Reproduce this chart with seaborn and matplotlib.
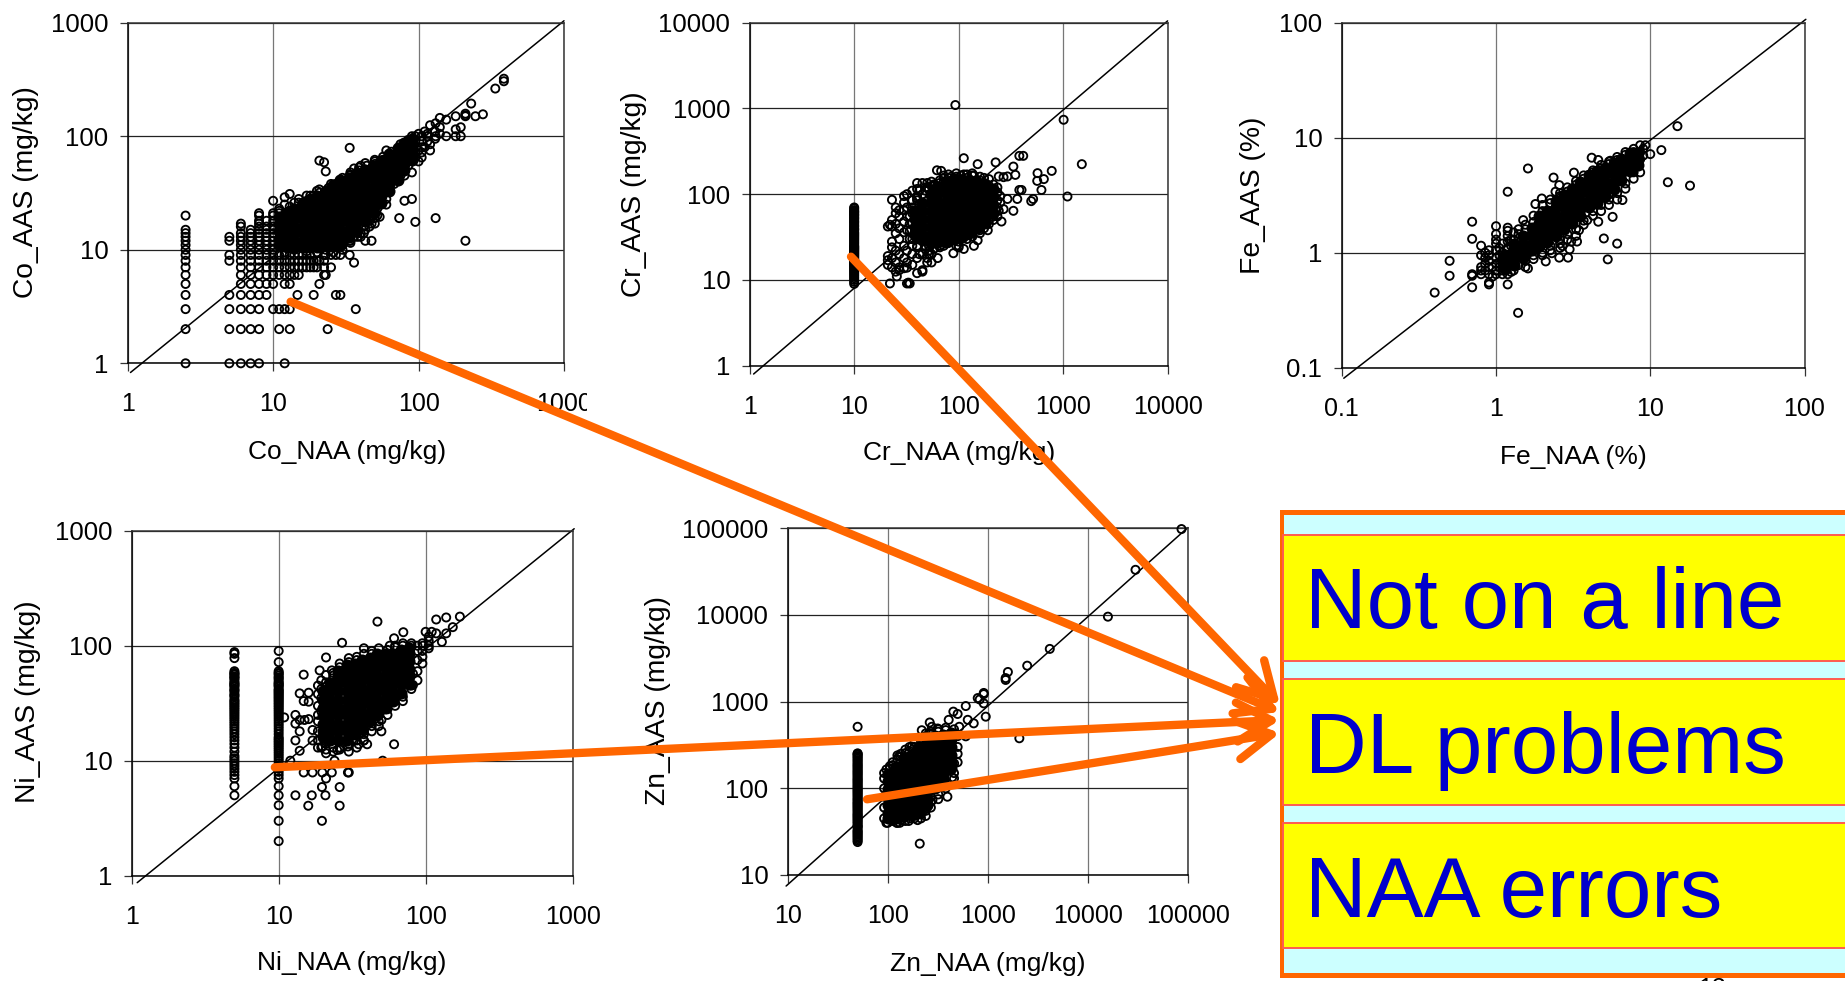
import matplotlib
matplotlib.use("Agg")
import matplotlib.pyplot as plt
from matplotlib.patches import Rectangle
from matplotlib.transforms import Bbox
import pandas as pd
import seaborn as sns

# Values. Keys are the NAA value, lists are the AAS values at it.
# "core" lists are the saturated black middle of each cloud, "rings" the separate circles,
# "fringe" the circles that make the rough edge of the cloud.
co_rings = {
    2.5: [20, 15, 14, 13, 12, 11, 10, 9, 8, 7, 6, 5, 4, 3, 2, 1],
    5: [13, 12, 9, 8, 4, 3, 2, 1],
    6: [17, 16, 14, 13, 12, 11, 10, 9, 8, 7, 6, 5, 4, 3, 2, 1],
    7: [15, 14, 13, 12, 11, 10, 9, 8, 7, 6, 5, 4, 3, 2, 1],
    8: [21, 20, 18, 17, 16, 15, 14, 13, 12, 11, 10, 9, 8, 7, 6, 5, 4, 3, 2, 1],
    9: [18, 16, 15, 14, 13, 12, 11, 10, 9, 8, 7, 6, 5, 4],
    10: [27, 21, 20, 18, 16, 15, 14, 13, 12, 11, 10, 9, 8, 7, 6, 5, 3],
    11: [22, 19, 9, 8, 7, 6, 3, 2],
    12: [29, 25, 18, 9, 8, 7, 6, 5, 3, 1],
    13: [31, 9, 8, 7, 6, 5, 3, 2],
    14: [26, 9, 8, 7, 6],
    14.7: [4],
    15: [28, 9, 8, 7, 6],
    16: [9, 8, 7],
    17: [30, 9, 8, 7],
    18: [30, 9, 8, 7],
    19: [8, 7, 4],
    20: [33, 8, 7],
    20.8: [61, 34, 8, 5],
    22.4: [59, 9, 8, 7, 6],
    23: [49, 9, 6],
    23.7: [2],
    25: [38, 9, 7],
    27: [9, 4],
    29: [9, 4],
    33.6: [79, 45, 12, 9],
    36: [52, 13, 7.7],
    37: [3],
    40: [55, 14, 13],
    43: [58, 15, 12],
    47.5: [17, 12],
    50: [62, 19, 17],
    54: [19.5],
    60: [75, 25],
    73.6: [19],
    80: [85, 45, 27],
    90: [100, 48, 28],
    95: [17.6],
    100: [105, 75, 60],
    110: [110, 80],
    120: [125, 75, 85],
    131: [19, 100, 130],
    140: [145, 120, 105],
    155: [140, 100],
    180: [150, 115, 100],
    195: [120, 100],
    210: [12, 153, 158, 150],
    230: [194],
    246: [150],
    277: [156],
    337: [263],
    386: [321, 305],
}
co_fringe = {
    11: [23, 21],
    12: [9.5],
    13: [24, 22],
    14: [10],
    15: [26],
    17: [27, 24, 9.7],
    19: [30, 28],
    20: [9.5],
    21: [32, 29],
    23: [10],
    24: [35, 31],
    26: [9.5, 10.5],
    27: [38, 36],
    30: [43, 40, 11, 10],
    34: [46, 48, 12, 11.5],
    38: [14, 13],
    39: [50, 53],
    42: [16, 14],
    44: [55, 50],
    46: [18, 16],
    50: [60, 57],
    52: [23, 20],
    57: [66, 62],
    60: [28, 33],
    65: [73, 68],
    68: [38, 42],
    75: [85, 78, 48, 45],
    85: [93, 90, 55, 60],
    95: [100, 90, 65, 72],
    105: [80, 90, 100, 72, 65],
    115: [90, 105, 100],
    130: [110, 95],
}
co_core = {
    11: [11, 12.5, 14.5, 17, 19.5],
    12.5: [10.5, 12, 14, 16, 18.5, 21],
    14: [10.5, 12, 14, 16, 18.5, 21, 23],
    16: [10.5, 12, 14, 16, 18.5, 21, 24, 26],
    18: [10.5, 12, 14, 16, 18.5, 21, 24, 28],
    20: [10.5, 12, 14, 16, 18.5, 21, 24, 27, 30],
    23: [11, 13, 15, 17, 20, 23, 26, 30, 33],
    26: [11, 13, 15, 17, 20, 23, 26, 30, 34, 37],
    29: [11, 13, 15, 17.5, 20, 23, 26, 30, 34, 38, 41],
    33: [13, 15, 17.5, 20, 23, 26, 30, 34, 38, 43],
    38: [15, 18, 20, 23, 26, 30, 34, 39, 44, 47],
    43: [18, 21, 24, 27, 31, 36, 41, 46, 50],
    49: [21, 24, 27, 31, 36, 42, 48, 55],
    55: [26, 30, 35, 40, 46, 53, 60],
    63: [33, 38, 44, 50, 57, 64, 70],
    72: [41, 47, 54, 62, 70, 78],
    80: [50, 57, 65, 75, 88],
    90: [62, 72, 83, 95],
}

cr_rings = {
    10: [70, 68, 65, 62, 60, 57, 55, 52, 50, 47, 45, 42, 40, 38, 36, 34, 32, 30, 28, 26, 25,
         24, 23, 22, 21, 20, 19, 18, 17, 16, 15, 14, 13, 12, 11, 10.5, 10, 9.5, 9],
    21: [19, 17, 15, 42],
    22: [9.1, 44],
    23: [86, 50, 42, 28, 24, 18, 14],
    25: [70, 60, 45, 35, 22, 16, 12.5],
    25.6: [11],
    27: [65, 55, 40, 30, 20, 14, 13],
    30: [95, 80, 65, 48, 36, 25, 18, 13.7],
    32: [100, 70, 55, 38, 22, 16, 13.9, 9.1],
    33: [9.3],
    34: [9.1],
    36: [110, 85, 60, 46, 30, 20, 15],
    40: [135, 115, 90, 24, 18, 12],
    45: [135, 100, 20, 12.5, 13],
    50: [135, 120, 18, 16],
    55: [140, 125, 20, 16],
    63: [18],
    62: [190, 125],
    68: [187],
    72: [155, 140, 25],
    89: [20.5],
    93: [1096],
    85: [160, 145],
    100: [150, 28, 24, 25],
    112: [263, 170, 23],
    140: [25, 165],
    152: [224, 29],
    190: [38],
    226: [235],
    242: [161, 64],
    257: [48],
    269: [158, 67],
    293: [161, 88],
    334: [210, 64],
    349: [168],
    364: [88],
    381: [280, 112],
    400: [112],
    415: [280],
    495: [83],
    516: [88],
    565: [143],
    569: [176],
    620: [112],
    654: [150],
    778: [187],
    1011: [738],
    1100: [94],
    1510: [224],
}
cr_fringe = {
    10: [63, 58, 53, 48, 43, 39, 35, 33, 31, 29, 27, 24.5, 23.5, 22.5, 21.5, 20.5, 19.5, 18.5,
         17.5, 16.5, 15.5, 14.5, 13.5, 12.5, 11.5],
    34: [45, 55, 30, 37],
    36: [70, 25, 65],
    40: [85, 95, 25, 30],
    42: [75, 110, 20],
    48: [110, 120, 25, 23],
    52: [115, 22, 25, 20],
    58: [130, 125, 23],
    66: [145, 135, 25, 24],
    72: [165, 28],
    80: [170, 155, 27],
    95: [175, 160, 25],
    105: [165, 150, 30],
    120: [170, 155, 30, 33],
    135: [165, 175, 35, 32],
    160: [160, 145, 35, 38],
    175: [155, 40, 45],
    195: [150, 125, 50, 45],
    215: [130, 55, 50],
    235: [120, 105, 85, 70, 55],
    250: [95, 80],
}
cr_core = {
    38: [33, 41, 51, 63],
    45: [30, 33, 41, 51, 63, 78],
    54: [27, 33, 41, 51, 63, 78, 97],
    64: [28, 35, 43, 53, 66, 82, 102, 120],
    76: [28, 35, 43, 53, 66, 82, 102, 125, 140],
    90: [30, 37, 46, 57, 71, 88, 109, 135, 150],
    107: [32, 40, 50, 62, 77, 95, 118, 145],
    127: [35, 43, 53, 66, 82, 102, 126, 145],
    151: [40, 50, 62, 77, 95, 118, 140],
    180: [46, 57, 71, 88, 109, 130],
    214: [60, 75, 93, 115],
}

fe_rings = {
    0.4: [0.45],
    0.5: [0.85, 0.63],
    0.7: [1.86, 1.32, 0.65, 0.63, 0.5],
    0.8: [1.15, 0.95, 0.75, 0.7, 0.65],
    0.9: [1.05, 0.95, 0.85, 0.75, 0.65, 0.55, 0.53],
    1: [1.7, 1.45, 1.3, 1.2, 1.05, 0.9, 0.8, 0.7, 0.65],
    1.1: [1.2, 1, 0.9, 0.8, 0.7, 0.65],
    1.19: [3.39, 1.65, 1.55, 1.4, 1.25, 1.1, 0.95, 0.85, 0.75, 0.65, 0.53],
    1.3: [1.5, 1.3, 1.1, 0.95, 0.8, 0.7],
    1.39: [0.3],
    1.5: [1.92],
    1.61: [5.4, 0.73],
    1.8: [2.65],
    1.98: [2.96],
    2.1: [0.84],
    2.3: [0.99],
    2.36: [4.5],
    2.43: [3.39],
    2.57: [3.87, 0.906],
    2.7: [1.14],
    2.93: [0.906],
    3: [1.07],
    3.07: [1.25],
    3.2: [4.97],
    3.35: [1.25],
    3.45: [1.57],
    3.9: [1.92],
    4.17: [6.7],
    4.6: [6.4, 1.86],
    5: [1.33],
    5.3: [0.875],
    5.5: [6.3],
    5.7: [2.05],
    6.1: [1.2],
    6.6: [2.87],
    8.6: [8.6],
    9.3: [8.6],
    10: [7.2],
    11.8: [7.8],
    13: [4.1],
    15: [12.6],
    18.1: [3.83],
}
fe_fringe = {
    0.85: [0.9, 0.8, 0.7, 1],
    0.95: [0.75, 0.62],
    1.05: [1.1, 0.95, 0.75],
    1.25: [1.3, 1.15, 0.8, 0.68],
    1.4: [1.6, 1.45, 0.78],
    1.55: [1.75, 1.6, 0.75, 0.85],
    1.75: [2.1, 1.85, 0.88, 0.95],
    2: [2.6, 2.3, 1, 0.95],
    2.25: [2.9, 2.7, 1.05, 1.15],
    2.6: [3.3, 3.1, 1.2, 1.3, 1.1],
    2.9: [3.7, 3.4, 1.3, 1.45],
    3.3: [4.2, 3.9, 1.4, 1.6],
    3.7: [4.7, 4.4, 1.75, 1.9],
    4.25: [5.2, 5, 2.1, 2.3],
    4.8: [5.8, 5.4, 2.3, 2.6],
    5.4: [6.2, 5.9, 2.6, 2.9, 3.2],
    6.1: [6.8, 6.4, 2.9, 3.3],
    6.9: [7.5, 7.1, 3.6, 4],
    7.8: [8, 7.5, 4.4, 5],
    8.6: [7.5, 6.5, 5],
    9: [8, 7],
}
fe_core = {
    1.15: [0.72, 0.82, 0.95],
    1.3: [0.78, 0.9, 1.05, 1.2],
    1.5: [0.9, 1, 1.2, 1.4],
    1.7: [1.05, 1.2, 1.4, 1.65],
    1.9: [1.15, 1.3, 1.55, 1.8, 2.1],
    2.15: [1.25, 1.4, 1.65, 1.95, 2.3],
    2.45: [1.4, 1.55, 1.8, 2.1, 2.5, 2.8],
    2.75: [1.6, 1.8, 2.1, 2.5, 2.9, 3.2],
    3.1: [1.8, 2, 2.4, 2.8, 3.3, 3.6],
    3.5: [2.1, 2.4, 2.8, 3.3, 3.8, 4.1],
    4: [2.5, 2.8, 3.3, 3.8, 4.4, 4.7],
    4.5: [2.7, 3, 3.5, 4.1, 4.8, 5.1],
    5.1: [3.1, 3.5, 4.1, 4.8, 5.4],
    5.8: [3.6, 4.1, 4.8, 5.6, 6],
    6.5: [4.3, 4.9, 5.7, 6.5],
    7.4: [5.1, 5.8, 6.8, 7.3],
    8.3: [5.8, 6.5, 7.3],
}

ni_rings = {
    5: [88, 85, 78, 60, 58, 56, 54, 52, 50, 47, 45, 42, 40, 38, 36, 34, 32, 30, 28, 26, 25, 24,
        22, 20, 18, 16, 15, 14, 13, 12, 11, 10.5, 10, 9.5, 9, 8.5, 8, 7.5, 7, 6, 5],
    10: [90, 72, 60, 58, 55, 52, 50, 47, 45, 42, 40, 38, 36, 34, 32, 30, 28, 26, 25, 24, 22, 21,
         20, 19, 18, 17, 16, 15, 14, 13, 12.5, 12, 11.5, 11, 10.5, 10, 9.5, 9, 8.5, 8, 7.5, 7,
         6, 5, 4.1, 3, 2],
    10.9: [23.8],
    12: [10],
    13: [25, 21, 15, 5],
    13.9: [22.6, 18, 12.2, 38.5],
    14.8: [56, 33, 7.9],
    15: [22.6],
    15.9: [4.06],
    16: [39, 32.6, 23],
    16.8: [5],
    17: [18.5, 15, 7.9],
    19: [61],
    19.7: [5.9, 3],
    19.8: [13.3, 7.9],
    20.8: [5],
    21: [79, 55.6, 11.6, 7],
    23: [61, 7.9],
    24: [10],
    25: [12.4],
    26: [5.9, 4.06],
    27: [106],
    29.6: [13.3, 7.9],
    30: [7.9],
    32.5: [15],
    35: [13.9],
    38: [95, 15],
    40: [13.9],
    47: [162],
    50: [22.6, 18],
    51: [31.6, 10],
    57: [100],
    61: [116, 13.9],
    62: [36],
    68: [38],
    70.5: [131],
    82: [57, 45.5],
    96: [100],
    100: [132],
    110: [132],
    118: [169, 128],
    129: [108],
    138: [176, 128],
    153: [145],
    171: [179],
}
ni_fringe = {
    5: [44, 41, 37, 33, 31, 29, 27, 23, 21, 19, 17, 48, 46, 53, 57],
    10: [57, 53, 48, 46, 44, 41, 39, 37, 35, 33, 31, 29, 27, 23, 15.5, 14.5, 13.5],
    18.5: [45, 38, 30, 25, 22, 18, 15, 13],
    19.5: [50, 42, 35, 27, 13],
    21: [48, 44, 14, 12.5],
    23.5: [55, 58, 13, 12],
    26: [70, 65, 13, 12.5],
    30: [78, 72, 14, 12],
    34: [80, 75, 15, 13],
    38: [85, 15, 17, 18],
    43: [90, 85, 20, 18],
    48: [95, 22, 20],
    55: [92, 25, 28],
    62: [100, 97, 30],
    70: [100, 105, 33, 36],
    80: [100, 105, 42, 45],
    88: [100, 90, 75, 60, 50],
    95: [105, 90, 80, 70],
    105: [110, 100, 120, 95],
}
ni_core = {
    20: [16, 18, 21, 25, 29, 34, 40],
    22.5: [15, 18, 21, 25, 29, 34, 40, 47],
    25.5: [15, 18, 21, 25, 29, 34, 40, 47, 55, 60],
    29: [15, 18, 21, 25, 29, 34, 40, 47, 55, 64, 68],
    33: [17, 20, 24, 28, 33, 39, 46, 54, 63, 70],
    37: [19, 22, 26, 31, 36, 42, 50, 58, 68, 75],
    42: [22, 26, 31, 36, 42, 50, 58, 68, 78],
    47: [25, 29, 34, 40, 47, 55, 65, 76, 85],
    53: [29, 34, 40, 47, 55, 65, 76, 85],
    60: [33, 39, 46, 54, 63, 74, 85],
    68: [39, 46, 54, 63, 74, 87, 92],
    77: [46, 54, 63, 74, 87, 95],
}

zn_rings = {
    50: [513, 253, 250, 235, 220, 205, 190, 178, 166, 155, 145, 135, 126, 118, 110, 103, 96, 90,
         84, 78, 73, 68, 64, 60, 56, 52, 49, 46, 43, 40, 37, 35, 32, 30, 28, 26, 24],
    100: [40],
    123: [40],
    129: [232],
    132: [40],
    162: [42],
    174: [302],
    199: [43],
    209: [23],
    219: [468],
    234: [57],
    263: [575],
    276: [513],
    280: [73],
    316: [490],
    395: [80],
    407: [617],
    441: [134],
    453: [767],
    461: [194],
    500: [721],
    519: [513],
    603: [890, 398],
    631: [617],
    724: [562],
    794: [1100],
    830: [1060],
    912: [1260, 1220, 955],
    955: [671],
    1510: [1780, 1870],
    1590: [2200],
    2070: [378],
    2480: [2600],
    4170: [4060],
    15900: [9560],
    30000: [33200],
    86500: [98000],
}
zn_fringe = {
    50: [243, 228, 212, 197, 184, 172, 160, 150, 140, 130, 122, 114, 106, 99, 93, 87, 81, 75, 70,
         66, 62, 58, 54, 50, 47, 44, 41, 38, 36, 33, 31, 29, 27, 25],
    92: [150, 130, 100, 80, 60, 45],
    97: [165, 40],
    105: [180, 170],
    112: [200, 185, 42],
    125: [240, 215, 40],
    135: [250, 230, 43],
    150: [280, 255, 42],
    165: [300, 270, 45],
    185: [340, 300, 45, 48],
    215: [380, 350, 45, 50],
    240: [430, 400, 48, 55],
    270: [450, 430, 60, 70, 80],
    320: [480, 450, 85, 75],
    380: [500, 470, 100, 110],
    460: [480, 420, 130, 150],
    500: [400, 300, 250, 200],
}
zn_core = {
    100: [46, 52, 64, 79, 98, 121, 145],
    120: [46, 52, 64, 79, 98, 121, 150, 175],
    144: [48, 54, 67, 83, 103, 127, 157, 194, 225],
    173: [50, 56, 69, 85, 105, 130, 161, 199, 240],
    207: [54, 62, 77, 95, 117, 145, 179, 221, 273, 300],
    249: [64, 74, 91, 113, 140, 173, 214, 264, 326, 380],
    299: [100, 117, 145, 179, 221, 273, 337, 400],
    359: [125, 148, 183, 226, 279, 345, 410],
    430: [170, 198, 245, 303, 374, 430],
}

# 1:1 reference lines, they run a little past the frame at the low end
co_line = ([1.045, 1000], [0.83, 1040])
cr_line = ([1.09, 10000], [0.8, 10500])
fe_line = ([0.103, 102], [0.081, 107])
ni_line = ([1.09, 1025], [0.87, 1040])
zn_line = ([9.64, 100000], [7.46, 102000])

co_ticks = ["1", "10", "100", "1000"]
cr_ticks = ["1", "10", "100", "1000", "10000"]
fe_ticks = ["0.1", "1", "10", "100"]
ni_ticks = ["1", "10", "100", "1000"]
zn_ticks = ["10", "100", "1000", "10000", "100000"]

box_labels = ["Not on a line", "DL problems", "NAA errors"]

W, H = 1845, 981
XTICK_SIZE = 18
YTICK_SIZE = 18.5
XLABEL_SIZE = 19
YLABEL_SIZE = 20.3
ORANGE = "#FF6600"

sns.set_theme(style="white")
plt.rcParams["font.family"] = ["Liberation Sans", "DejaVu Sans"]

fig = plt.figure(figsize=(W / 100, H / 100), dpi=100, facecolor="white")

# left, right, top, bottom of the frame, x label centre, y label centre (pixels)
panels = [
    ("Co", co_rings, co_fringe, co_core, co_line, co_ticks, "Co_NAA (mg/kg)", "Co_AAS (mg/kg)",
     (127.7, 564, 22.7, 363.3), (347, 452), (25.7, 191.7)),
    ("Cr", cr_rings, cr_fringe, cr_core, cr_line, cr_ticks, "Cr_NAA (mg/kg)", "Cr_AAS (mg/kg)",
     (749.7, 1167.6, 22.7, 365.7), (959, 453), (633.8, 194)),
    ("Fe", fe_rings, fe_fringe, fe_core, fe_line, fe_ticks, "Fe_NAA (%)", "Fe_AAS (%)",
     (1341.8, 1804.5, 22.7, 367.7), (1573, 456.7), (1253.5, 195)),
    ("Ni", ni_rings, ni_fringe, ni_core, ni_line, ni_ticks, "Ni_NAA (mg/kg)", "Ni_AAS (mg/kg)",
     (131.7, 572.6, 530.7, 875.7), (352, 963), (28.5, 701.7)),
    ("Zn", zn_rings, zn_fringe, zn_core, zn_line, zn_ticks, "Zn_NAA (mg/kg)", "Zn_AAS (mg/kg)",
     (787.7, 1187.8, 528.3, 875), (987.7, 964), (657.6, 700.8)),
]


def to_frame(*tables):
    rows = [(x, y) for columns in tables for x, ys in columns.items() for y in ys]
    return pd.DataFrame(rows, columns=["naa", "aas"])


for name, rings, fringe, core, line, ticks, xlabel, ylabel, frame, xpos, ypos in panels:
    left, right, top, bottom = frame
    ax = fig.add_axes([left / W, 1 - bottom / H, (right - left) / W, (bottom - top) / H])
    ax.set(xscale="log", yscale="log")
    tick_values = [float(t) for t in ticks]

    ax.plot(line[0], line[1], color="black", lw=1.1, clip_on=False, zorder=2)
    sns.scatterplot(data=to_frame(core), x="naa", y="aas", ax=ax, s=75, color="black",
                    edgecolor="black", linewidth=0, clip_on=False, zorder=3)
    sns.scatterplot(data=to_frame(rings, fringe), x="naa", y="aas", ax=ax, s=34, marker="o",
                    facecolors="none", edgecolor="black", linewidth=1.35, clip_on=False, zorder=4)

    ax.set_xlim(tick_values[0], tick_values[-1])
    ax.set_ylim(tick_values[0], tick_values[-1])
    ax.set_xticks(tick_values, labels=ticks, fontsize=XTICK_SIZE, color="black")
    ax.set_yticks(tick_values, labels=ticks, fontsize=YTICK_SIZE, color="black")
    ax.minorticks_off()
    ax.tick_params(axis="x", length=6, width=0.9, color="#333333", pad=15, bottom=True)
    ax.tick_params(axis="y", length=6, width=0.9, color="#333333", pad=8, left=True)
    ax.set_axisbelow(True)
    ax.grid(axis="x", color="#777777", lw=0.9)
    ax.grid(axis="y", color="#222222", lw=0.9)
    for side, spine in ax.spines.items():
        spine.set_visible(True)
        spine.set_color("black" if side in ("left", "bottom") else "#333333")
        spine.set_linewidth(1.1)

    ax.set_xlabel(xlabel, fontsize=XLABEL_SIZE, color="black", va="center")
    ax.set_ylabel(ylabel, fontsize=YLABEL_SIZE, color="black", va="center")
    ax.xaxis.set_label_coords(xpos[0] / W, 1 - xpos[1] / H, transform=fig.transFigure)
    ax.yaxis.set_label_coords(ypos[0] / W, 1 - ypos[1] / H, transform=fig.transFigure)

    if name == "Co":
        # the last tick label of this panel is cut off in the source picture
        cut = ax.get_xticklabels()[-1]
        cut.set_clip_box(Bbox([[0, 0], [587, H]]))
        cut.set_clip_on(True)

# Slide overlay in pixel coordinates: orange arrows and the summary box
overlay = fig.add_axes([0, 0, 1, 1], zorder=10)
overlay.set_xlim(0, W)
overlay.set_ylim(H, 0)
overlay.axis("off")

arrows = [
    ((290.6, 301.7), (1280, 712)),
    ((851, 256.7), (1280, 705)),
    ((274.8, 767.3), (1280, 720)),
    ((867, 799.3), (1280, 733)),
]
for start, tip in arrows:
    overlay.annotate("", xy=tip, xytext=start, arrowprops=dict(
        arrowstyle="->,head_length=1.25,head_width=0.7", color=ORANGE, lw=6,
        shrinkA=0, shrinkB=0, mutation_scale=20, capstyle="round", joinstyle="round"))

overlay.add_patch(Rectangle((1280, 510), 575, 468, facecolor=ORANGE, edgecolor="none"))
overlay.add_patch(Rectangle((1284, 514.7), 570, 458.6, facecolor="#CCFFFF", edgecolor="none"))
rows = [(535, 660.5), (679, 804.5), (823, 948)]
baselines = [628, 772.7, 916.7]
for (row_top, row_bottom), base, label in zip(rows, baselines, box_labels):
    overlay.add_patch(Rectangle((1282.5, row_top), 570, row_bottom - row_top,
                                facecolor="#FFFF00", edgecolor="#FF5A50", lw=1.4))
    overlay.text(1305, base, label, fontsize=61.5, color="#0000CC", ha="left", va="baseline")

# page number of the slide, almost entirely below the bottom edge
overlay.text(1698, 977.5, "13", fontsize=18, color="black", ha="left", va="top")

fig.savefig("out.png", dpi=100)
